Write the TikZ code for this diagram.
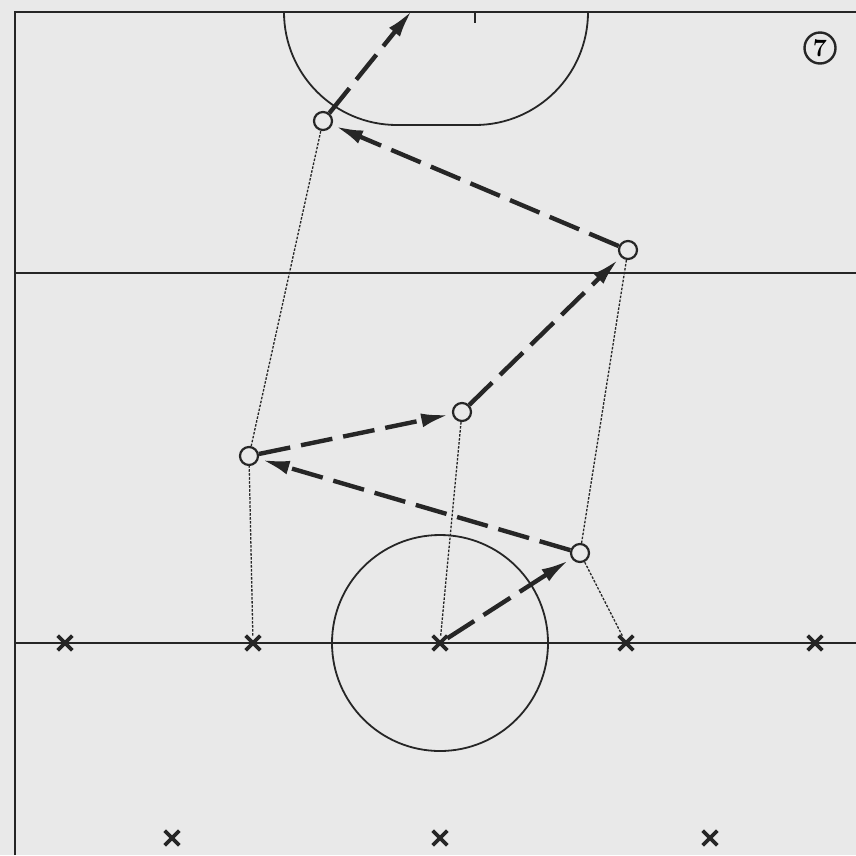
\documentclass[tikz,border=0pt]{standalone}
\usetikzlibrary{shapes.misc,arrows.meta}
\definecolor{bg}{HTML}{E9E9E9}
\definecolor{ink}{HTML}{262626}
\tikzset{
  player/.style={circle,draw=ink,line width=2.2pt,fill=bg,minimum size=18pt,inner sep=0pt},
  xmark/.style={cross out,draw=ink,line width=3.6pt,minimum size=11pt,inner sep=0pt},
  pass/.style={draw=ink,line width=4.4pt,dash pattern=on 32pt off 11pt,-{Latex[length=28pt,width=14pt]},shorten >=3pt},
  run/.style={draw=ink,line width=1.3pt,dash pattern=on 2.5pt off 1.5pt},
  court/.style={draw=ink,line width=1.8pt}
}
\begin{document}
\begin{tikzpicture}[x=1pt,y=-1pt]
\fill[bg] (0,0) rectangle (856,855);
\useasboundingbox (0,0) rectangle (856,855);
% court lines
\draw[court] (15,855) -- (15,12) -- (856,12);
\draw[court] (15,273) -- (856,273);
\draw[court] (15,643) -- (856,643);
% goal area
\draw[court] (284,12) arc[start angle=180,end angle=90,radius=113] -- (475,125) arc[start angle=90,end angle=0,radius=113];
\draw[court] (475,12) -- (475,23);
% centre circle
\draw[court] (440,643) circle[radius=108];
% number
\node[circle,draw=ink,line width=2.4pt,minimum size=31pt,inner sep=0pt,font=\bfseries\fontsize{25}{25}\selectfont] (num) at (820,48) {7};
% crosses
\node[xmark] (x1) at (65,643) {};
\node[xmark] (x2) at (253,643) {};
\node[xmark] (x3) at (440,643) {};
\node[xmark] (x4) at (626,643) {};
\node[xmark] (x5) at (815,643) {};
\node[xmark] (y1) at (172,838) {};
\node[xmark] (y2) at (440,838) {};
\node[xmark] (y3) at (710,838) {};
% players
\node[player] (A) at (323,121) {};
\node[player] (B) at (628,250) {};
\node[player] (C) at (462,412) {};
\node[player] (D) at (249,456) {};
\node[player] (E) at (580,553) {};
\coordinate (T) at (414,8);
% runs
\draw[run] (x2) -- (D);
\draw[run] (D) -- (A);
\draw[run] (x3) -- (C);
\draw[run] (x4) -- (E);
\draw[run] (E) -- (B);
% passes
\draw[pass] (x3) -- (E);
\draw[pass] (E) -- (D);
\draw[pass] (D) -- (C);
\draw[pass] (C) -- (B);
\draw[pass] (B) -- (A);
\draw[pass] (A) -- (T);
\end{tikzpicture}
\end{document}
